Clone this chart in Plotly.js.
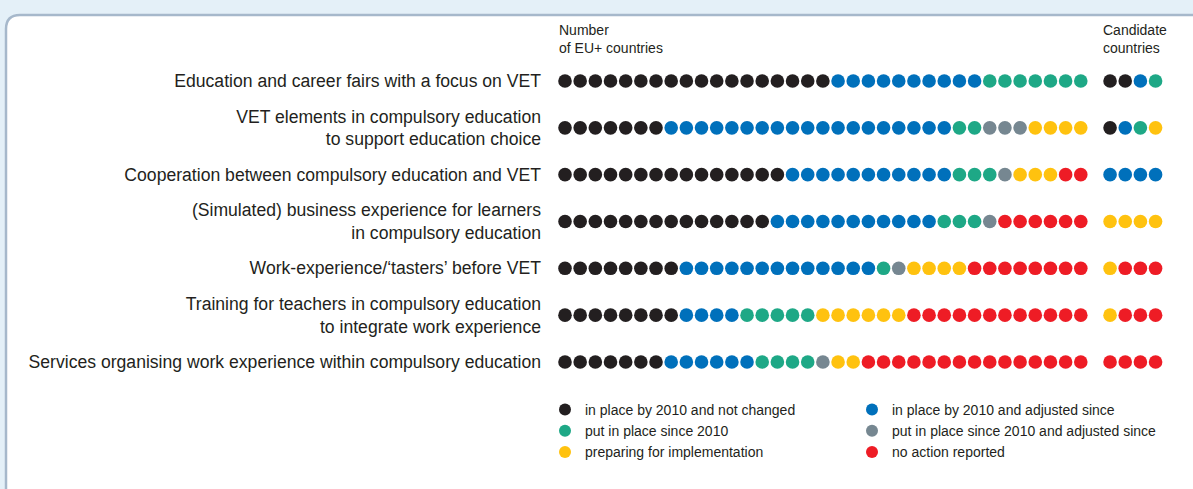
<!DOCTYPE html>
<html>
<head>
<meta charset="utf-8">
<script src="https://cdn.plot.ly/plotly-3.0.1.min.js"></script>
<style>html,body{margin:0;padding:0;background:#e4f0f8;}#chart{width:1193px;height:489px;}</style>
</head>
<body>
<div id="chart"></div>
<script>
// ---- data ----
const measures = [
  'Education and career fairs with a focus on VET',
  'VET elements in compulsory education<br>to support education choice',
  'Cooperation between compulsory education and VET',
  '(Simulated) business experience for learners<br>in compulsory education',
  'Work-experience/\u2018tasters\u2019 before VET',
  'Training for teachers in compulsory education<br>to integrate work experience',
  'Services organising work experience within compulsory education'
];
const statusNames = [
  'in place by 2010 and not changed',
  'in place by 2010 and adjusted since',
  'put in place since 2010',
  'put in place since 2010 and adjusted since',
  'preparing for implementation',
  'no action reported'
];
// EU+ countries, number per status for each measure
const euNotChanged  = [18, 7, 15, 14, 8, 8, 7];
const euAdjusted    = [10, 19, 11, 11, 13, 4, 6];
const euNew         = [7, 2, 3, 3, 1, 5, 4];
const euNewAdjusted = [0, 3, 1, 1, 1, 0, 1];
const euPreparing   = [0, 4, 3, 0, 4, 6, 2];
const euNoAction    = [0, 0, 2, 6, 8, 12, 15];
// Candidate countries
const ccNotChanged  = [2, 1, 0, 0, 0, 0, 0];
const ccAdjusted    = [1, 1, 4, 0, 0, 0, 0];
const ccNew         = [1, 1, 0, 0, 0, 0, 0];
const ccNewAdjusted = [0, 0, 0, 0, 0, 0, 0];
const ccPreparing   = [0, 1, 0, 4, 1, 1, 0];
const ccNoAction    = [0, 0, 0, 0, 3, 3, 4];

const colors = ['#231f20', '#0070bb', '#1ea886', '#768791', '#ffc20f', '#ee1c25'];

// ---- build ----
const eu = [euNotChanged, euAdjusted, euNew, euNewAdjusted, euPreparing, euNoAction];
const cc = [ccNotChanged, ccAdjusted, ccNew, ccNewAdjusted, ccPreparing, ccNoAction];
const candStart = 35.93; // gap between the two groups (in dot units)

const traces = statusNames.map((name, s) => {
  const xs = [], ys = [];
  measures.forEach((m, r) => {
    let off = 0;
    for (let p = 0; p < s; p++) off += eu[p][r];
    for (let k = 0; k < eu[s][r]; k++) { xs.push(off + k); ys.push(r); }
    let offc = 0;
    for (let p = 0; p < s; p++) offc += cc[p][r];
    for (let k = 0; k < cc[s][r]; k++) { xs.push(candStart + offc + k); ys.push(r); }
  });
  return {
    type: 'scatter', mode: 'markers', name: name, x: xs, y: ys,
    marker: {color: colors[s], size: 13.6, line: {width: 0}},
    cliponaxis: false, hoverinfo: 'skip'
  };
});

const W = 1193, H = 489, L = 545;
const PW = W - L;
const unit = 15.17;
const x0 = -(565 - L) / unit;
const rowUnit = 46.83;
const yTop = -81 / rowUnit;
const yBot = yTop + H / rowUnit;

function px(p) { return (p - L) / PW; }
function py(p) { return 1 - p / H; }
const r = 14;
const panel = 'M ' + px(6) + ' ' + py(503) + ' L ' + px(6) + ' ' + py(15 + r) +
  ' Q ' + px(6) + ' ' + py(15) + ' ' + px(6 + r) + ' ' + py(15) +
  ' L ' + px(1210) + ' ' + py(15) + ' L ' + px(1210) + ' ' + py(503) + ' Z';

const font = '"Liberation Sans", Arial, sans-serif';
const layout = {
  width: W, height: H,
  margin: {l: L, r: 0, t: 0, b: 0},
  paper_bgcolor: '#e4f0f8', plot_bgcolor: 'rgba(0,0,0,0)',
  font: {family: font, color: '#231f20', size: 14},
  showlegend: true,
  legend: {
    orientation: 'h', x: 0, y: py(394), xanchor: 'left', yanchor: 'top',
    entrywidth: 262, entrywidthmode: 'pixels', itemsizing: 'constant',
    font: {family: font, size: 14, color: '#231f20'}, bgcolor: 'rgba(0,0,0,0)'
  },
  xaxis: {range: [x0, x0 + PW / unit], visible: false, fixedrange: true},
  yaxis: {
    range: [yBot, yTop], tickmode: 'array', tickvals: measures.map((m, i) => i),
    ticktext: measures, showgrid: false, zeroline: false, showline: false, ticks: '',
    ticklabelstandoff: 3,
    tickfont: {family: font, size: 17.6, color: '#231f20'}, automargin: false, fixedrange: true
  },
  shapes: [{type: 'path', xref: 'paper', yref: 'paper', path: panel,
    fillcolor: '#ffffff', line: {color: '#a6b8cb', width: 2.5}, layer: 'below'}],
  annotations: [
    {xref: 'x', yref: 'paper', x: -0.55, y: py(20), xanchor: 'left', yanchor: 'top',
     text: 'Number<br>of EU+ countries', showarrow: false, align: 'left',
     font: {family: font, size: 14, color: '#231f20'}},
    {xref: 'x', yref: 'paper', x: candStart - 0.58, y: py(20), xanchor: 'left', yanchor: 'top',
     text: 'Candidate<br>countries', showarrow: false, align: 'left',
     font: {family: font, size: 14, color: '#231f20'}}
  ]
};

Plotly.newPlot('chart', traces, layout, {displayModeBar: false, staticPlot: true});
</script>
</body>
</html>
